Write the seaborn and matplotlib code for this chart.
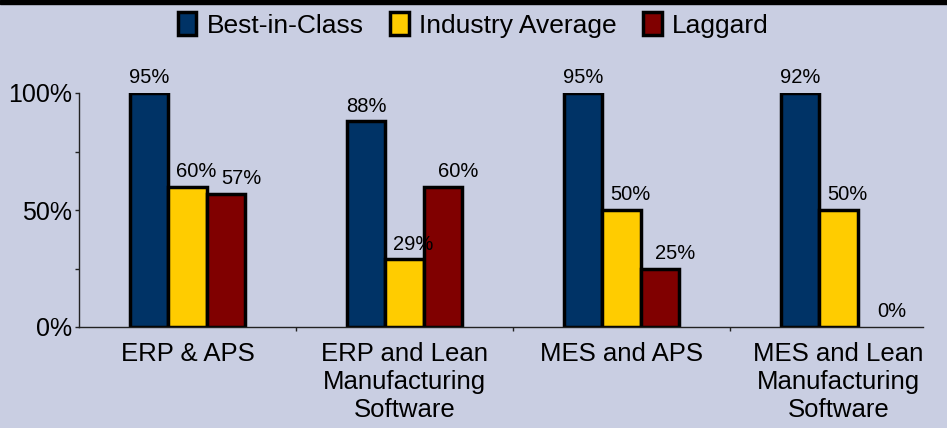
import pandas as pd
import matplotlib.pyplot as plt
import seaborn as sns

# data
groups = ["ERP & APS", "ERP and Lean\nManufacturing\nSoftware", "MES and APS", "MES and Lean\nManufacturing\nSoftware"]
series = ["Best-in-Class", "Industry Average", "Laggard"]

# printed labels
best_label = [95, 88, 95, 92]
industry_label = [60, 29, 50, 50]
laggard_label = [57, 60, 25, 0]

# drawn bar heights (the Best-in-Class bars reach the 100% line in the original)
best_bar = [100, 88, 100, 100]
industry_bar = [60, 29, 50, 50]
laggard_bar = [57, 60, 25, 0]

colors = ["#003366", "#ffcc00", "#800000"]
bg = "#c9cee2"

rows = []
for s, bars in zip(series, [best_bar, industry_bar, laggard_bar]):
    for g, v in zip(groups, bars):
        rows.append({"group": g, "series": s, "value": v})
df = pd.DataFrame(rows)

sns.set_style("white")
plt.rcParams["font.family"] = ["Liberation Sans", "DejaVu Sans"]
plt.rcParams["text.color"] = "black"

fig = plt.figure(figsize=(9.47, 4.28), dpi=100)
fig.patch.set_facecolor(bg)
ax = fig.add_axes([79 / 947, 101 / 428, 1 - 79 / 947, 234 / 428])
ax.set_facecolor(bg)

sns.barplot(data=df, x="group", y="value", hue="series", palette=colors,
            width=0.53, gap=0, saturation=1, edgecolor="black", linewidth=2.5,
            ax=ax)

# empty bars show no outline in the original
for cont in ax.containers:
    for rect in cont:
        if rect.get_height() == 0:
            rect.set_linewidth(0)

# value labels above bars
label_sets = [best_label, industry_label, laggard_label]
shifts = [0, 6.5, 11]
for cont, labs, dx in zip(ax.containers, label_sets, shifts):
    for rect, lab in zip(cont, labs):
        ax.annotate(f"{lab}%", (rect.get_x() + rect.get_width() / 2, rect.get_height()),
                    xytext=(dx, 4), textcoords="offset points",
                    ha="center", va="bottom", fontsize=14.5, color="black",
                    annotation_clip=False)

ax.set_xlim(-0.5, 3.5)
ax.set_ylim(0, 100)
ax.set_xlabel("")
ax.set_ylabel("")

ax.set_yticks([0, 50, 100])
ax.set_yticklabels(["0%", "50%", "100%"], fontsize=18)
ax.set_yticks([25, 75], minor=True)
ax.tick_params(axis="y", which="both", direction="out", length=3, width=1,
               color="#222222", labelcolor="black", pad=2, left=True)

ax.set_xticks(range(len(groups)))
ax.set_xticklabels(groups, fontsize=18.5, linespacing=1.2)
ax.set_xticks([0.5, 1.5, 2.5], minor=True)
ax.tick_params(axis="x", which="major", length=0, pad=11, labelcolor="black")
ax.tick_params(axis="x", which="minor", direction="out", length=3, width=1,
               color="#222222", bottom=True)

for side in ["top", "right"]:
    ax.spines[side].set_visible(False)
ax.spines["left"].set_color("#222222")
ax.spines["bottom"].set_color("#222222")
ax.spines["left"].set_linewidth(1)
ax.spines["bottom"].set_linewidth(1)
ax.spines["bottom"].set_bounds(-0.5, 3.39)

handles, labs = ax.get_legend_handles_labels()
leg = ax.legend(handles, labs, loc="center", bbox_to_anchor=(0.5, 1 - 25 / 428),
                bbox_transform=fig.transFigure, ncol=3, frameon=False, fontsize=19,
                handlelength=0.7, handleheight=0.95, handletextpad=0.4,
                columnspacing=1.0)
for t in leg.get_texts():
    t.set_color("black")

# black strip along the top edge
fig.add_artist(plt.Rectangle((0, 1 - 4 / 428), 1, 4 / 428, transform=fig.transFigure,
                             color="black", zorder=10))

plt.savefig("out.png", dpi=100, facecolor=fig.get_facecolor())
plt.close()
